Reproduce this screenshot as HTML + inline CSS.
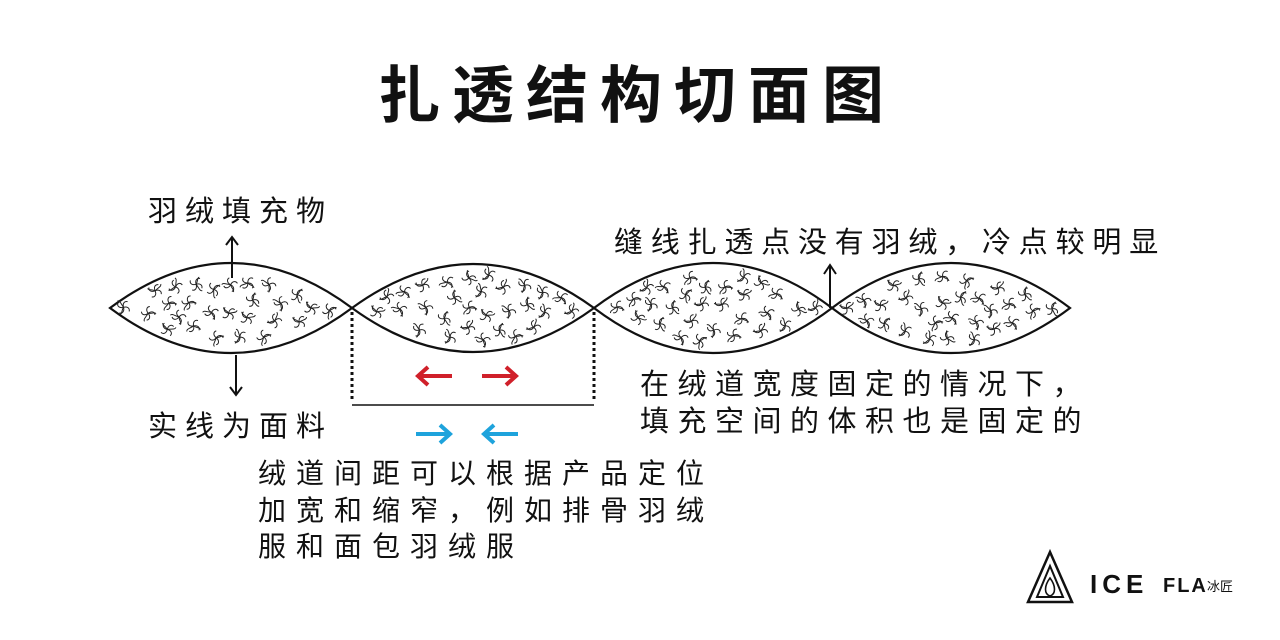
<!DOCTYPE html>
<html><head><meta charset="utf-8"><style>
html,body{margin:0;padding:0;background:#fff;}
body{width:1280px;height:640px;overflow:hidden;position:relative;}
svg{position:absolute;left:0;top:0;}
text{font-family:"Liberation Sans","Noto Sans CJK SC",sans-serif;fill:#111;}
</style></head><body>
<svg width="1280" height="640" viewBox="0 0 1280 640" xmlns="http://www.w3.org/2000/svg">
<defs>
<g id="sw" fill="none" stroke="#222" stroke-width="0.9">
<path d="M0 0 C-2 -3 -1 -6 2 -6"/><path d="M0 0 C3 -2 6 -1 6 2"/><path d="M0 0 C2 3 1 6 -2 6"/><path d="M0 0 C-3 2 -6 1 -6 -2"/><path d="M0 0 C3 -4 5 -5 4 -7"/><path d="M0 0 C-4 -1 -6 1 -7 -1"/>
</g>
</defs>
<text x="378" y="117" font-size="62" font-weight="bold" letter-spacing="12">扎透结构切面图</text>
<text x="148" y="221" font-size="29" letter-spacing="8">羽绒填充物</text>
<text x="148" y="436" font-size="29" letter-spacing="8">实线为面料</text>
<text x="614" y="252" font-size="29" letter-spacing="7.8">缝线扎透点没有羽绒，冷点较明显</text>
<text x="640" y="394" font-size="29" letter-spacing="8.5">在绒道宽度固定的情况下，</text>
<text x="640" y="431" font-size="29" letter-spacing="8.5">填充空间的体积也是固定的</text>
<text x="258" y="483" font-size="28" letter-spacing="10">绒道间距可以根据产品定位</text>
<text x="258" y="520" font-size="28" letter-spacing="10">加宽和缩窄，例如排骨羽绒</text>
<text x="258" y="556" font-size="28" letter-spacing="10">服和面包羽绒服</text>
<g id="lenses" fill="#fff" stroke="#111" stroke-width="2.2">
<path d="M110 308 Q231 218 352 308 Q231 398 110 308Z"/>
<path d="M352 308 Q473 220 594 308 Q473 396 352 308Z"/>
<path d="M594 308 Q713 218 832 308 Q713 398 594 308Z"/>
<path d="M832 308 Q951 218 1070 308 Q951 398 832 308Z"/>
</g>
<g id="swirls"></g>
<g stroke="#111" stroke-width="2" fill="none">
<line x1="232" y1="278" x2="232" y2="238"/><path d="M226 245 L232 237 L238 245"/>
<line x1="236" y1="355" x2="236" y2="394"/><path d="M230 387 L236 395 L242 387"/>
<line x1="830" y1="308" x2="830" y2="266"/><path d="M824 274 L830 265 L836 274"/>
<line x1="352" y1="312" x2="352" y2="402" stroke-dasharray="3 3" stroke-width="3"/>
<line x1="594" y1="312" x2="594" y2="402" stroke-dasharray="3 3" stroke-width="3"/>
<line x1="352" y1="405" x2="594" y2="405" stroke-width="1.6"/>
</g>
<g stroke="#d0202a" stroke-width="4" fill="none">
<line x1="418" y1="376" x2="452" y2="376"/><path d="M428 367 L418 376 L428 385"/>
<line x1="482" y1="376" x2="516" y2="376"/><path d="M506 367 L516 376 L506 385"/>
</g>
<g stroke="#1ea3dc" stroke-width="4" fill="none">
<line x1="416" y1="434" x2="450" y2="434"/><path d="M440 425 L450 434 L440 443"/>
<line x1="484" y1="434" x2="518" y2="434"/><path d="M494 425 L484 434 L494 443"/>
</g>
<g transform="translate(1026,550)" fill="none" stroke="#111" stroke-width="2.5">
<path d="M24 2 L2 52 L46 52 Z"/>
<path d="M24 16 L11 47 L37 47 Z" stroke-width="2"/>
<path d="M24 28 C18 36 18 44 24 46 C30 44 30 36 24 28Z" stroke-width="1.6"/>
</g>
<text x="1090" y="593" font-size="26" font-weight="bold" letter-spacing="5">ICE</text>
<text x="1163" y="592" font-size="20" font-weight="bold" letter-spacing="2">FLA</text>
<text x="1207" y="591" font-size="13" fill="#555">冰匠</text>
</svg>
<script>
var g=document.getElementById('swirls'),L=[[110,352],[352,594],[594,832],[832,1070]],s=7;
function r(){s=(s*9301+49297)%233280;return s/233280;}
L.forEach(function(l){var cx=(l[0]+l[1])/2,hw=(l[1]-l[0])/2,n=0,t=0,pts=[];
while(n<34&&t<5000){t++;var x=cx+(r()*2-1)*hw,y=308+(r()*2-1)*44;
var dx=Math.abs(x-cx)/hw;var lim=42*(1-dx*dx)-8;if(Math.abs(y-308)>lim)continue;
var ok=true;for(var i=0;i<pts.length;i++){var a=pts[i][0]-x,b=pts[i][1]-y;if(a*a+b*b<17*17){ok=false;break;}}
if(!ok)continue;pts.push([x,y]);
var u=document.createElementNS('http://www.w3.org/2000/svg','use');
u.setAttribute('href','#sw');u.setAttribute('transform','translate('+x.toFixed(1)+','+y.toFixed(1)+') rotate('+Math.floor(r()*360)+') scale(1.1)');g.appendChild(u);n++;}});
</script>
</body></html>
